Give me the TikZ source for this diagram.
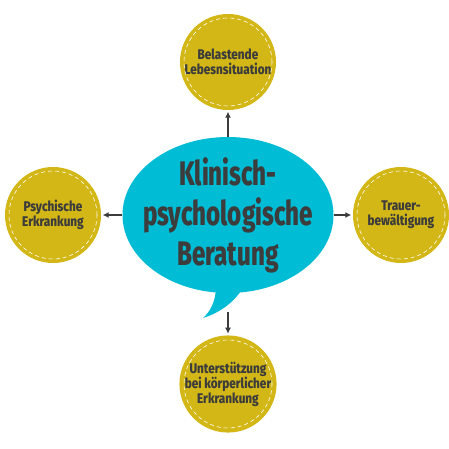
\documentclass[tikz,border=0pt]{standalone}
\usepackage{fontspec}
\setmainfont{Fira Sans}
\newfontfamily\narrowfont[FakeStretch=0.71,BoldFont={Fira Sans ExtraBold}]{Fira Sans}
\newfontfamily\topicfont[FakeStretch=0.84,BoldFont={Fira Sans ExtraBold}]{Fira Sans}
\usetikzlibrary{shapes.geometric,arrows.meta}
\definecolor{mustard}{HTML}{D3B716}
\definecolor{bubblecyan}{HTML}{00BCD5}
\definecolor{ink}{HTML}{3C3C3C}
\tikzset{
  topic/.style={circle,fill=mustard,minimum size=96pt,inner sep=0pt,text=ink,align=center,
    font=\topicfont\bfseries\fontsize{14}{15}\selectfont},
  stitch/.style={draw=white,line width=0.6pt,dash pattern=on 4pt off 3pt},
  bubble/.style={ellipse,fill=bubblecyan,minimum width=211pt,minimum height=156pt,inner sep=0pt},
  bubbletext/.style={text=ink,align=center,font=\narrowfont\bfseries\fontsize{34}{40}\selectfont},
  link/.style={draw=ink,line width=1.4pt,-{Latex[length=6pt,width=6pt]},shorten >=1.5pt},
}

\begin{document}
\begin{tikzpicture}[x=1pt,y=-1pt]
  \useasboundingbox (0,0) rectangle (449,449);

  % speech bubble
  \node[bubble] (beratung) at (228,215) {};
  \fill[bubblecyan] (216,286) .. controls (216,300) and (211,311) .. (203,318)
    .. controls (222,312) and (237,300) .. (245,284) -- cycle;
  \node[bubbletext] (titel) at (beratung.center) {Klinisch-\\psychologische\\Beratung};
  \coordinate (tailend) at (228,312);

  % topics round the bubble
  \foreach \name/\x/\y/\label in {
      belastung/228/62/{Belastende\\Lebesnsituation},
      psyche/53/215/{Psychische\\Erkrankung},
      trauer/401/215/{Trauer-\\bewältigung},
      koerper/228/384/{Unterstützung\\bei körperlicher\\Erkrankung}} {
    \node[topic] (\name) at (\x,\y) {\label};
    \draw[stitch] (\name.center) circle (44pt);
  }

  \draw[link] (beratung) -- (belastung);
  \draw[link] (beratung) -- (psyche);
  \draw[link] (beratung) -- (trauer);
  \draw[link] (tailend) -- (koerper);
\end{tikzpicture}
\end{document}
